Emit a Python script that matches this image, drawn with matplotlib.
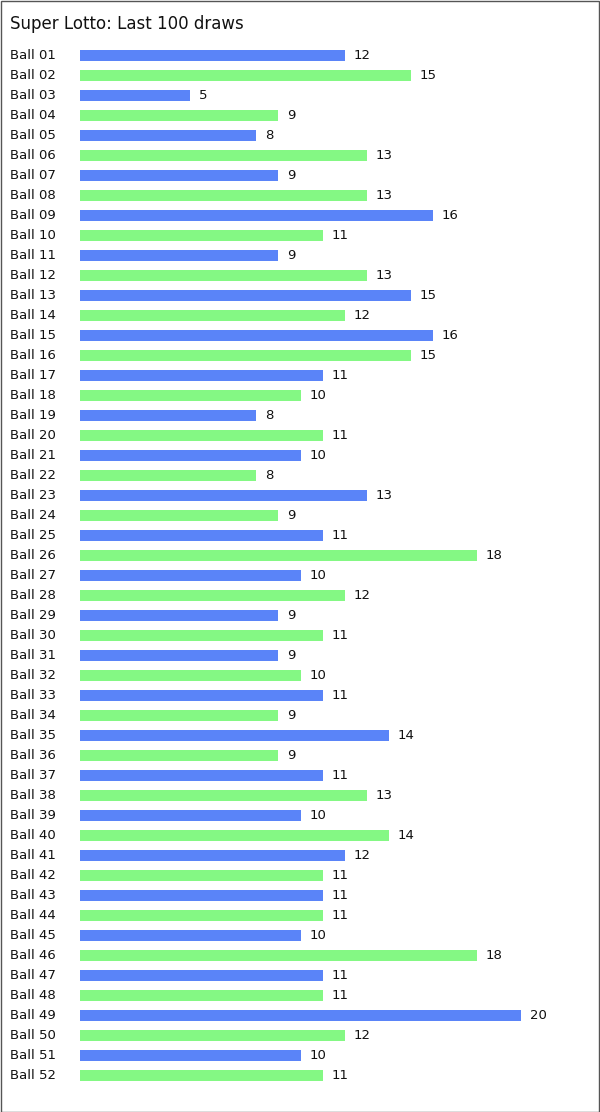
import numpy as np
import matplotlib.pyplot as plt
from matplotlib.patches import Rectangle

# Data
balls = ['Ball %02d' % i for i in range(1, 53)]
counts = [12, 15, 5, 9, 8, 13, 9, 13, 16, 11, 9, 13, 15, 12, 16, 15, 11, 10, 8, 11,
          10, 8, 13, 9, 11, 18, 10, 12, 9, 11, 9, 10, 11, 9, 14, 9, 11, 13, 10, 14,
          12, 11, 11, 11, 10, 18, 11, 11, 20, 12, 10, 11]
colors = ['#5a84f8' if i % 2 == 0 else '#84f884' for i in range(len(counts))]

W, H = 600, 1112
fig = plt.figure(figsize=(W / 100, H / 100), dpi=100)

# Axes: row 0 centred at y=55.5, rows 20 px apart, x: 0 at 80 px, ~22.05 px/unit
top = 45.5
bottom = 55.5 + 20 * 51 + 10
x_max = 23
ax = fig.add_axes([80 / W, 1 - bottom / H, x_max * 22.05 / W, (bottom - top) / H])
y = np.arange(len(counts))
ax.barh(y, counts, height=11 / 20, color=colors)
ax.set_xlim(0, x_max)
ax.set_ylim(len(counts) - 0.5, -0.5)
ax.axis('off')

for i, (name, c) in enumerate(zip(balls, counts)):
    ax.text(-70 / 22.05, i, name, ha='left', va='center', fontsize=9.5, color='#111111')
    ax.text(c + 9 / 22.05, i, str(c), ha='left', va='center', fontsize=9.5, color='#111111')

fig.text(10 / W, 1 - 24 / H, 'Super Lotto: Last 100 draws', ha='left', va='center',
         fontsize=12, color='#111111')

# frame around the picture
fig.patches.append(Rectangle((0.5 / W, 0.5 / H), 1 - 1.5 / W, 1 - 1.5 / H,
                             transform=fig.transFigure, fill=False,
                             edgecolor='#555555', linewidth=1))

fig.savefig('out.png', dpi=100)
